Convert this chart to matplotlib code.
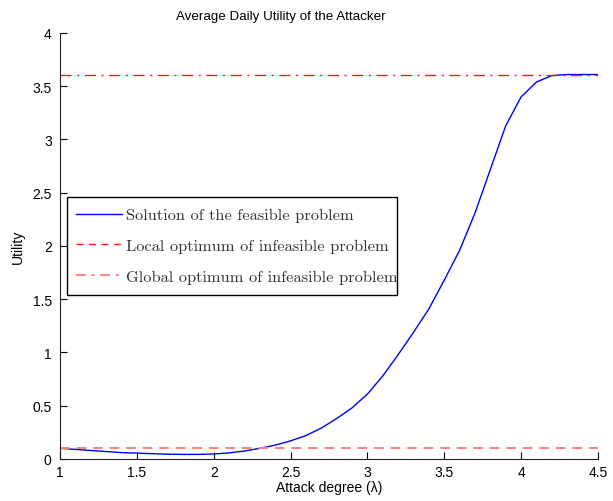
import numpy as np
import matplotlib
matplotlib.use("Agg")
import matplotlib.pyplot as plt
from matplotlib.lines import Line2D
from matplotlib.patches import Rectangle

# Attack degree (lambda) and average daily utility of the feasible solution
attack_degree = [1.0, 1.1, 1.2, 1.3, 1.4, 1.5, 1.6, 1.7, 1.8, 1.9,
                 2.0, 2.1, 2.2, 2.3, 2.4, 2.5, 2.6, 2.7, 2.8, 2.9,
                 3.0, 3.1, 3.2, 3.3, 3.4, 3.5, 3.6, 3.7, 3.8, 3.9,
                 4.0, 4.1, 4.2, 4.3, 4.4, 4.5]
feasible_utility = [0.100, 0.090, 0.080, 0.070, 0.060, 0.055, 0.050, 0.045, 0.043, 0.043,
                    0.047, 0.057, 0.075, 0.100, 0.130, 0.170, 0.220, 0.290, 0.380, 0.480,
                    0.610, 0.780, 0.980, 1.190, 1.410, 1.680, 1.960, 2.310, 2.720, 3.130,
                    3.400, 3.540, 3.600, 3.610, 3.610, 3.610]
local_optimum = 0.1
global_optimum = 3.61

x_ticks = [1, 1.5, 2, 2.5, 3, 3.5, 4, 4.5]
y_ticks = [0, 0.5, 1, 1.5, 2, 2.5, 3, 3.5, 4]

plt.rcParams['font.family'] = ['Liberation Sans', 'DejaVu Sans']

fig = plt.figure(figsize=(6.13, 5.02), dpi=100)
ax = fig.add_axes([0.0979, 0.0837, 0.8776, 0.8486])

ax.plot(attack_degree, feasible_utility, color='#0000ff', lw=1.0)
ax.axhline(global_optimum, color='#ff1515', lw=1.0, ls=(0, (8, 4, 1.5, 4)))
ax.axhline(local_optimum, color='#ff8080', lw=1.4, ls=(0, (5, 3.5)))

ax.set_xlim(1, 4.5)
ax.set_ylim(0, 4)
ax.set_xticks(x_ticks)
ax.set_xticklabels([f"{t:g}" for t in x_ticks])
ax.set_yticks(y_ticks)
ax.set_yticklabels([f"{t:g}" for t in y_ticks])
ax.tick_params(direction='in', length=5, width=0.8, labelsize=10, colors='black')
ax.tick_params(axis='y', pad=6)
ax.tick_params(axis='x', pad=4)
for s in ['top', 'right']:
    ax.spines[s].set_visible(False)
for s in ['left', 'bottom']:
    ax.spines[s].set_linewidth(0.8)
    ax.spines[s].set_color('#222222')

fig.text(281 / 613, 1 - 17 / 502, "Average Daily Utility of the Attacker",
         fontsize=9.6, ha='center', va='center')
ax.set_xlabel("Attack degree (λ)", fontsize=10, labelpad=1)
ax.set_ylabel("Utility", fontsize=10, labelpad=5)

handles = [
    Line2D([], [], color='#0000ff', lw=1.0),
    Line2D([], [], color='#ff1515', lw=1.0, ls=(0, (5, 4))),
    Line2D([], [], color='#ff8080', lw=1.4, ls=(0, (5, 3, 1.5, 3))),
]
labels = ["Solution of the feasible problem",
          "Local optimum of infeasible problem",
          "Global optimum of infeasible problem"]
leg = ax.legend(handles, labels, loc='upper left',
                bbox_to_anchor=(76 / 613, 1 - 209 / 502),
                bbox_transform=fig.transFigure, frameon=False,
                handlelength=2.8, handletextpad=0.25, labelspacing=0.98,
                borderpad=0, borderaxespad=0,
                prop={'family': ['cmr10', 'DejaVu Serif'], 'size': 11.8})
for t in leg.get_texts():
    t.set_color('#333333')

# legend frame (narrower than the longest label)
ax.add_patch(Rectangle((0.013, 0.385), 0.6135, 0.23, transform=ax.transAxes,
                       facecolor='none', edgecolor='black', lw=1.0, zorder=4,
                       clip_on=False))

fig.savefig("out.png", dpi=100)
